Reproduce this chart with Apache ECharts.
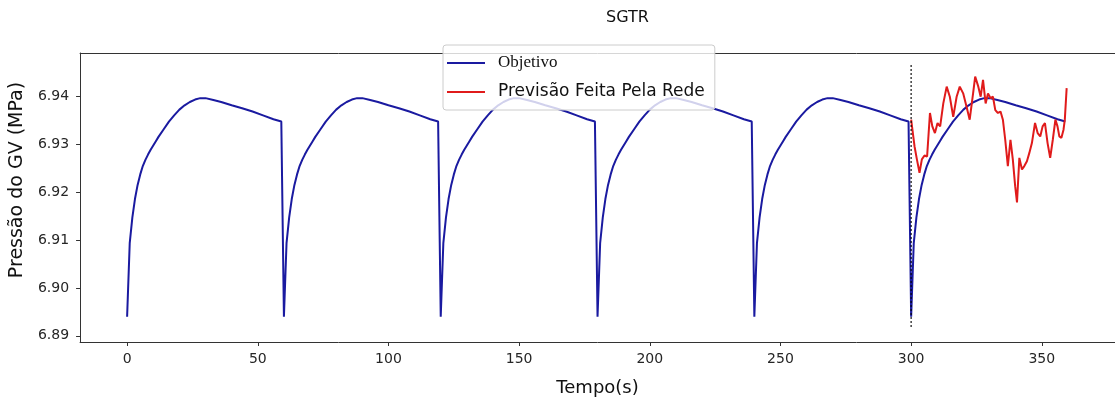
<!DOCTYPE html>
<html>
<head>
<meta charset="utf-8">
<script src="https://cdn.jsdelivr.net/npm/echarts@6/dist/echarts.min.js"></script>
<style>
  html, body { margin: 0; padding: 0; background: #ffffff; }
  #chart { width: 1115px; height: 402px; }
</style>
</head>
<body>
<div id="chart"></div>
<script>
// Pressure in the steam generator (GV) over time: target vs. network forecast
const tituloGrafico = 'SGTR';
const nomeObjetivo = 'Objetivo';
const nomePrevisao = 'Previsão Feita Pela Rede';
const ticksTempo = [0, 50, 100, 150, 200, 250, 300, 350];
const ticksPressao = [6.89, 6.90, 6.91, 6.92, 6.93, 6.94];

// Target curve, one row per 60 s cycle
const tempoObjetivo = [
  0, 1, 2, 3, 4, 5, 6, 7, 8, 9, 10, 11, 12, 14, 16, 18, 20, 22, 24, 26, 28, 30, 33, 36, 40, 44, 48, 52, 56, 59,
  60, 61, 62, 63, 64, 65, 66, 67, 68, 69, 70, 71, 72, 74, 76, 78, 80, 82, 84, 86, 88, 90, 93, 96, 100, 104, 108, 112, 116, 119,
  120, 121, 122, 123, 124, 125, 126, 127, 128, 129, 130, 131, 132, 134, 136, 138, 140, 142, 144, 146, 148, 150, 153, 156, 160, 164, 168, 172, 176, 179,
  180, 181, 182, 183, 184, 185, 186, 187, 188, 189, 190, 191, 192, 194, 196, 198, 200, 202, 204, 206, 208, 210, 213, 216, 220, 224, 228, 232, 236, 239,
  240, 241, 242, 243, 244, 245, 246, 247, 248, 249, 250, 251, 252, 254, 256, 258, 260, 262, 264, 266, 268, 270, 273, 276, 280, 284, 288, 292, 296, 299,
  300, 301, 302, 303, 304, 305, 306, 307, 308, 309, 310, 311, 312, 314, 316, 318, 320, 322, 324, 326, 328, 330, 333, 336, 340, 344, 348, 352, 356, 359
];
const pressaoObjetivo = [
  6.8940, 6.9094, 6.9147, 6.9186, 6.9215, 6.9237, 6.9255, 6.9268, 6.9279, 6.9289, 6.9298, 6.9307, 6.9316, 6.9332, 6.9348, 6.9361, 6.9373, 6.9382, 6.9389, 6.9394, 6.9397, 6.9397, 6.9393, 6.9389, 6.9382, 6.9376, 6.9369, 6.9361, 6.9353, 6.9348,
  6.8940, 6.9094, 6.9147, 6.9186, 6.9215, 6.9237, 6.9255, 6.9268, 6.9279, 6.9289, 6.9298, 6.9307, 6.9316, 6.9332, 6.9348, 6.9361, 6.9373, 6.9382, 6.9389, 6.9394, 6.9397, 6.9397, 6.9393, 6.9389, 6.9382, 6.9376, 6.9369, 6.9361, 6.9353, 6.9348,
  6.8940, 6.9094, 6.9147, 6.9186, 6.9215, 6.9237, 6.9255, 6.9268, 6.9279, 6.9289, 6.9298, 6.9307, 6.9316, 6.9332, 6.9348, 6.9361, 6.9373, 6.9382, 6.9389, 6.9394, 6.9397, 6.9397, 6.9393, 6.9389, 6.9382, 6.9376, 6.9369, 6.9361, 6.9353, 6.9348,
  6.8940, 6.9094, 6.9147, 6.9186, 6.9215, 6.9237, 6.9255, 6.9268, 6.9279, 6.9289, 6.9298, 6.9307, 6.9316, 6.9332, 6.9348, 6.9361, 6.9373, 6.9382, 6.9389, 6.9394, 6.9397, 6.9397, 6.9393, 6.9389, 6.9382, 6.9376, 6.9369, 6.9361, 6.9353, 6.9348,
  6.8940, 6.9094, 6.9147, 6.9186, 6.9215, 6.9237, 6.9255, 6.9268, 6.9279, 6.9289, 6.9298, 6.9307, 6.9316, 6.9332, 6.9348, 6.9361, 6.9373, 6.9382, 6.9389, 6.9394, 6.9397, 6.9397, 6.9393, 6.9389, 6.9382, 6.9376, 6.9369, 6.9361, 6.9353, 6.9348,
  6.8940, 6.9094, 6.9147, 6.9186, 6.9215, 6.9237, 6.9255, 6.9268, 6.9279, 6.9289, 6.9298, 6.9307, 6.9316, 6.9332, 6.9348, 6.9361, 6.9373, 6.9382, 6.9389, 6.9394, 6.9397, 6.9397, 6.9393, 6.9389, 6.9382, 6.9376, 6.9369, 6.9361, 6.9353, 6.9348
];

// Network forecast over the last cycle
const tempoPrevisao = [
  300.0, 301.3, 302.2, 303.2, 304.1, 305.1, 306.1, 307.2, 308.1, 309.1,
  310.1, 311.1, 312.3, 313.6, 314.8, 316.1, 317.4, 318.6, 319.9, 321.2,
  322.4, 323.7, 324.5, 325.7, 326.6, 327.5, 328.5, 329.4, 330.4, 331.3,
  332.2, 333.2, 334.2, 335.1, 336.0, 337.0, 338.0, 338.9, 339.8, 340.5,
  341.4, 342.4, 343.3, 344.3, 345.2, 346.2, 347.4, 348.4, 349.4, 350.3,
  351.2, 352.2, 353.2, 354.2, 355.2, 356.0, 356.7, 357.5, 358.3, 358.8, 359.5
];
const pressaoPrevisao = [
  6.9352, 6.9296, 6.9269, 6.9241, 6.9269, 6.9277, 6.9275, 6.9366, 6.9338, 6.9324,
  6.9345, 6.9338, 6.9386, 6.9421, 6.9400, 6.9358, 6.9400, 6.9421, 6.9407, 6.9379,
  6.9352, 6.9407, 6.9442, 6.9421, 6.9400, 6.9435, 6.9386, 6.9407, 6.9397, 6.9400,
  6.9372, 6.9366, 6.9369, 6.9352, 6.9310, 6.9255, 6.9310, 6.9269, 6.9213, 6.9179,
  6.9272, 6.9248, 6.9255, 6.9265, 6.9282, 6.9303, 6.9345, 6.9324, 6.9317, 6.9338,
  6.9345, 6.9303, 6.9272, 6.9310, 6.9352, 6.9338, 6.9317, 6.9314, 6.9331, 6.9352, 6.9418
];

// Dotted marker where the forecast begins
const tempoLimite = [300, 300];
const pressaoLimite = [6.8919, 6.9468];

function pares(xs, ys) {
  return xs.map(function (t, i) { return [t, ys[i]]; });
}

const fonte = 'DejaVu Sans';
const corEixo = '#333333';
const corObjetivo = '#1a1aa0';
const corPrevisao = '#e01b1b';

const chart = echarts.init(document.getElementById('chart'), null, { renderer: 'canvas' });

const textoLegenda = { color: '#111111', fontSize: 17, lineHeight: 20, padding: [0, 0, 0, 8] };

chart.setOption({
  animation: false,
  backgroundColor: '#ffffff',
  title: {
    text: tituloGrafico,
    left: 606,
    top: 10,
    padding: 0,
    textStyle: { fontFamily: fonte, fontSize: 16, fontWeight: 'normal', color: '#111111' }
  },
  legend: {
    orient: 'vertical',
    left: 443,
    top: 45,
    itemWidth: 38,
    itemHeight: 2,
    itemGap: 9,
    padding: [8, 10, 8, 4],
    backgroundColor: 'rgba(255,255,255,0.8)',
    borderColor: '#cccccc',
    borderWidth: 1,
    borderRadius: 3,
    textStyle: Object.assign({ fontFamily: fonte }, textoLegenda),
    data: [
      { name: nomeObjetivo, icon: 'rect', itemStyle: { color: corObjetivo },
        textStyle: Object.assign({ fontFamily: 'Liberation Serif' }, textoLegenda) },
      { name: nomePrevisao, icon: 'rect', itemStyle: { color: corPrevisao },
        textStyle: Object.assign({ fontFamily: fonte }, textoLegenda) }
    ]
  },
  grid: { left: 79, top: 53, width: 1042, height: 290.5, containLabel: false },
  xAxis: [
    {
      type: 'value',
      position: 'bottom',
      min: -18,
      max: 378,
      name: 'Tempo(s)',
      nameLocation: 'middle',
      nameGap: 37,
      nameTextStyle: { fontFamily: fonte, fontSize: 18, color: '#111111' },
      axisLine: { show: true, onZero: false, lineStyle: { color: corEixo, width: 1 } },
      axisTick: { show: true, length: 4, customValues: ticksTempo, lineStyle: { color: corEixo } },
      axisLabel: { customValues: ticksTempo, margin: 10, fontFamily: fonte, fontSize: 14, color: '#262626' },
      splitLine: { show: false }
    },
    {
      type: 'value',
      position: 'top',
      min: -18,
      max: 378,
      axisLine: { show: true, onZero: false, lineStyle: { color: corEixo, width: 1 } },
      axisTick: { show: false },
      axisLabel: { show: false },
      splitLine: { show: false }
    }
  ],
  yAxis: {
    type: 'value',
    min: 6.88871,
    max: 6.94914,
    name: 'Pressão do GV (MPa)',
    nameLocation: 'middle',
    nameGap: 49,
    nameTextStyle: { fontFamily: fonte, fontSize: 19, color: '#111111', padding: [0, 0, 0, 35] },
    axisLine: { show: true, onZero: false, lineStyle: { color: corEixo, width: 1 } },
    axisTick: { show: true, length: 4, customValues: ticksPressao, lineStyle: { color: corEixo } },
    axisLabel: {
      customValues: ticksPressao,
      margin: 11,
      fontFamily: fonte,
      fontSize: 14,
      color: '#262626',
      formatter: function (v) { return v.toFixed(2); }
    },
    splitLine: { show: false }
  },
  series: [
    {
      name: nomeObjetivo,
      type: 'line',
      xAxisIndex: 0,
      data: pares(tempoObjetivo, pressaoObjetivo),
      symbol: 'none',
      showSymbol: false,
      color: corObjetivo,
      lineStyle: { color: corObjetivo, width: 2 },
      z: 2
    },
    {
      name: nomePrevisao,
      type: 'line',
      xAxisIndex: 0,
      data: pares(tempoPrevisao, pressaoPrevisao),
      symbol: 'none',
      showSymbol: false,
      color: corPrevisao,
      lineStyle: { color: corPrevisao, width: 2 },
      z: 3
    },
    {
      name: 'limite',
      type: 'line',
      xAxisIndex: 0,
      data: pares(tempoLimite, pressaoLimite),
      symbol: 'none',
      showSymbol: false,
      silent: true,
      color: '#000000',
      lineStyle: { color: '#000000', width: 1.5, type: [1.5, 2.5] },
      z: 4
    }
  ]
});
</script>
</body>
</html>
